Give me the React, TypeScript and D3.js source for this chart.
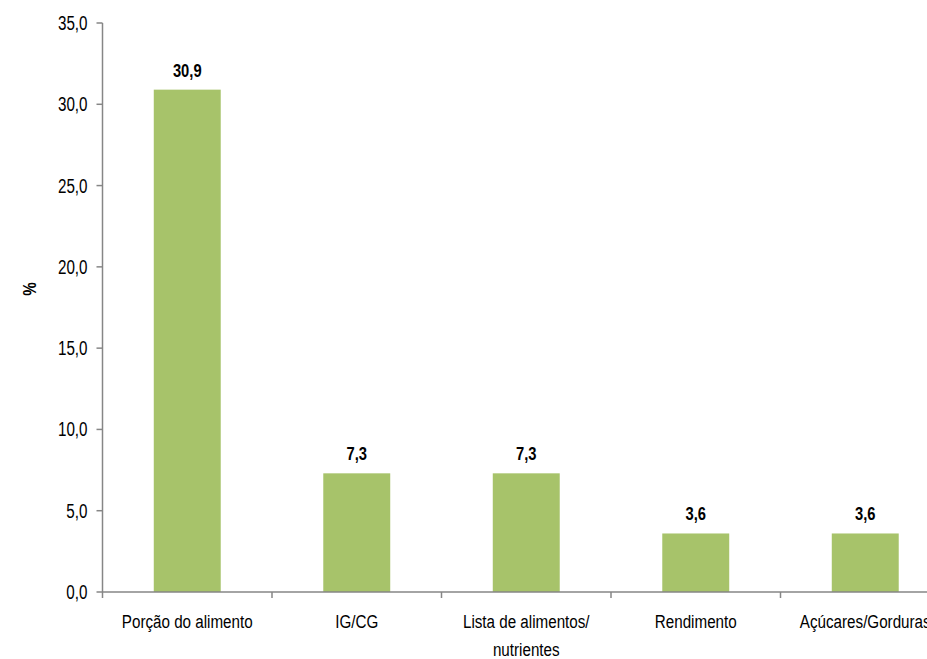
import React from "react";
import * as d3 from "d3";

const categories = ["Porção do alimento", "IG/CG", "Lista de alimentos/|nutrientes", "Rendimento", "Açúcares/Gorduras"];
const values = [30.9, 7.3, 7.3, 3.6, 3.6];
const yTicks = [0, 5, 10, 15, 20, 25, 30, 35];

const W = 927, H = 659;
const FONT = "'Liberation Sans', Arial, sans-serif";
const SX = 0.8;

function NText(props: { x: number; y: number; anchor?: string; size: number; bold?: boolean; children: React.ReactNode; dy?: string; sx?: number }) {
  const { x, y, anchor = "middle", size, bold, children, dy, sx = SX } = props;
  return (
    <text transform={`translate(${x},${y}) scale(${sx},1)`} textAnchor={anchor} dy={dy} fontSize={size} fontWeight={bold ? "bold" : "normal"} fill="#000">
      {children}
    </text>
  );
}

export default function App() {
  const x0 = 102.5, bandW = 169.5;
  const x = d3.scaleBand<string>().domain(categories).range([x0, x0 + bandW * categories.length]).paddingInner(0.605).paddingOuter(0.3025);
  const y = d3.scaleLinear().domain([0, 35]).range([592, 23]);
  const fmt = (v: number) => v.toFixed(1).replace(".", ",");
  const boundaries = d3.range(categories.length + 1).map(i => x0 + i * bandW);
  return (
    <svg width={W} height={H} style={{ position: "absolute", left: 0, top: 0, background: "#fff" }} fontFamily={FONT}>
      {/* y axis */}
      <line x1={x0} x2={x0} y1={y(35)} y2={y(0)} stroke="#868686" strokeWidth={1.5} />
      {yTicks.map(t => (
        <g key={t}>
          <line x1={x0 - 6} x2={x0} y1={y(t)} y2={y(t)} stroke="#868686" strokeWidth={1.5} />
          <NText x={x0 - 15} y={y(t)} dy="0.36em" anchor="end" size={19.5} sx={0.78}>{fmt(t)}</NText>
        </g>
      ))}
      <text transform={`translate(29,${289}) rotate(-90) scale(${SX},1)`} textAnchor="middle" dy="0.36em" fontSize={19} fontWeight="bold" fill="#000">%</text>
      {/* bars */}
      {categories.map((c, i) => (
        <g key={c}>
          <rect x={x(c)} y={y(values[i])} width={x.bandwidth()} height={y(0) - y(values[i])} fill="#A7C36A" />
          <NText x={(x(c) as number) + x.bandwidth() / 2} y={y(values[i]) - 13} size={18} sx={0.82} bold>{fmt(values[i])}</NText>
        </g>
      ))}
      {/* x axis */}
      <line x1={x0} x2={W} y1={y(0)} y2={y(0)} stroke="#868686" strokeWidth={1.5} />
      {boundaries.map((b, i) => (
        <line key={i} x1={b} x2={b} y1={y(0)} y2={y(0) + 6} stroke="#868686" strokeWidth={1.5} />
      ))}
      {categories.map((c, i) => {
        const cx = (x(c) as number) + x.bandwidth() / 2;
        const lines = c.split("|");
        return (
          <g key={c}>
            {lines.map((l, j) => (
              <NText key={j} x={cx} y={628 + j * 28} size={19}>{l}</NText>
            ))}
          </g>
        );
      })}
    </svg>
  );
}
